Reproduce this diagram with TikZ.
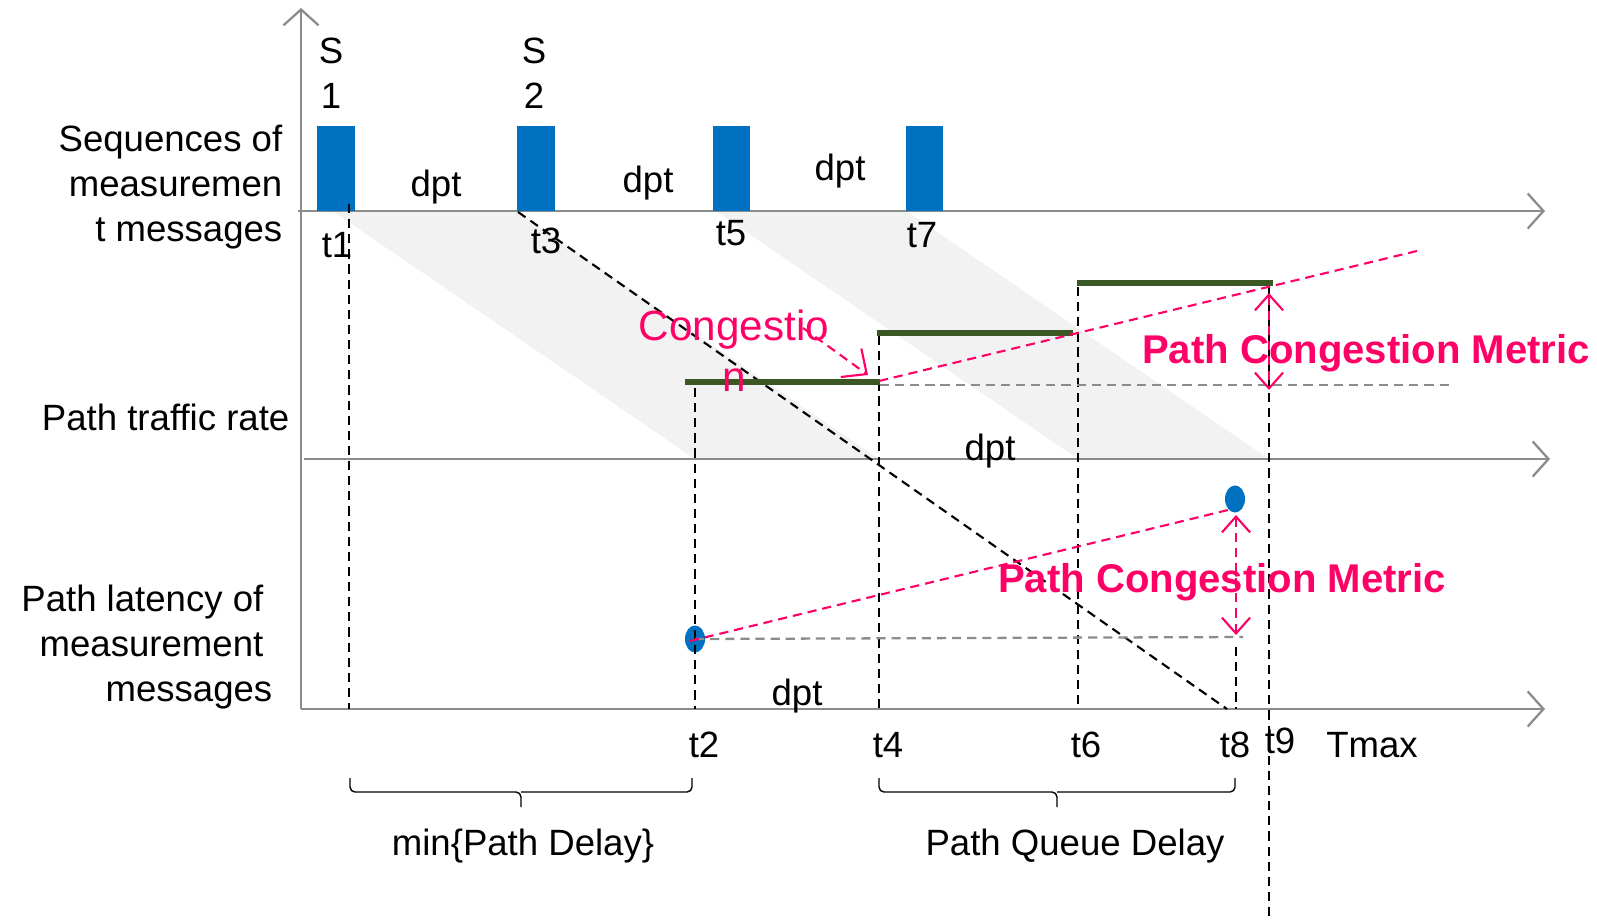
\documentclass[tikz,border=0pt]{standalone}
\usepackage{fontspec}
\setmainfont{Liberation Sans}
\usetikzlibrary{arrows.meta,shapes.geometric}
\definecolor{msgblue}{HTML}{0070C0}
\definecolor{rategreen}{HTML}{3A5724}
\definecolor{cngpink}{HTML}{FF0066}
\definecolor{axgrey}{HTML}{8C8C8C}
\definecolor{bandgrey}{HTML}{F2F2F2}
\tikzset{
  axis/.style={axgrey, line width=0.65pt, -{Straight Barb[length=4.5pt,width=10pt]}},
  guide/.style={black, line width=0.6pt, dash pattern=on 2.6pt off 1.7pt},
  level/.style={axgrey, line width=0.65pt, dash pattern=on 2.6pt off 1.7pt},
  trend/.style={cngpink, line width=0.6pt, dash pattern=on 2.6pt off 1.7pt},
  rate/.style={rategreen, line width=1.7pt},
  msg/.style={fill=msgblue, inner sep=0pt, minimum width=0.37cm, minimum height=0.85cm},
  dot/.style={ellipse, fill=msgblue, inner sep=0pt, minimum width=0.2cm, minimum height=0.27cm},
  txt/.style={inner sep=0pt, font=\fontsize{10.4}{12.8}\selectfont},
  metric/.style={inner sep=0pt, text=cngpink, font=\fontsize{11.4}{13.7}\selectfont\bfseries},
  gap/.style={line width=0.4pt, rounded corners=0.05cm},
  barb/.style={{Straight Barb[length=4.5pt,width=8pt]}-{Straight Barb[length=4.5pt,width=8pt]}},
}
\begin{document}
\begin{tikzpicture}[x=0.01cm, y=-0.01cm]
  \useasboundingbox (0,0) rectangle (1597,921);
  % grey bands
  \fill[bandgrey] (334,212) -- (518,212) -- (879,459) -- (695,459) -- cycle;
  \fill[bandgrey] (717,212) -- (908,212) -- (1269,459) -- (1078,459) -- cycle;

  % axes
  \coordinate (O) at (301,709);
  \coordinate (Ytop) at (301,8);
  \coordinate (A0) at (298,211);
  \coordinate (A1) at (1545,211);
  \coordinate (B0) at (304,459);
  \coordinate (B1) at (1550,459);
  \coordinate (C1) at (1545,709);
  \draw[axis] (O) -- (Ytop);
  \draw[axis] (A0) -- (A1);
  \draw[axis] (B0) -- (B1);
  \draw[axis] (O) -- (C1);

  % measurement messages
  \foreach \x/\n in {336/1, 536/2, 731.5/3, 924.5/4}
    \node[msg] (M\n) at (\x,168.5) {};
  \node[txt, align=center] (S1) at (331,73) {S\\1};
  \node[txt, align=center] (S2) at (534,73) {S\\2};
  \node[txt] (d1) at (436,187) {dpt};
  \node[txt] (d2) at (648,183) {dpt};
  \node[txt] (d3) at (840,171) {dpt};
  \node[txt] (d4) at (990,451) {dpt};
  \node[txt] (d5) at (797,696) {dpt};

  % row labels
  \node[txt, align=right, anchor=east] (seq) at (283,187) {Sequences of\\measuremen\\t messages};
  \node[txt, anchor=east] (rate) at (290,417) {Path traffic rate};
  \node[txt, align=right, anchor=east] (lat) at (264,647) {Path latency of\\measurement\\messages\hspace*{-0.09cm}};

  % time labels
  \node[txt] (t1) at (337,245) {t1};
  \node[txt] (t3) at (546,241) {t3};
  \node[txt] (t5) at (731,233) {t5};
  \node[txt] (t7) at (922,235) {t7};
  \node[txt] (t2) at (704,745) {t2};
  \node[txt] (t4) at (888,745) {t4};
  \node[txt] (t6) at (1086,745) {t6};
  \node[txt] (t8) at (1235,745) {t8};
  \node[txt] (t9) at (1280,741) {t9};
  \node[txt] (Tm) at (1372,745) {Tmax};

  % latency samples
  \node[dot] (D1) at (695,639) {};
  \node[dot] (D2) at (1235,499) {};

  % dashed guides
  \coordinate (v1) at (349,204);
  \coordinate (v2) at (695,388);
  \coordinate (v4) at (879,336);
  \coordinate (v6) at (1078,287);
  \coordinate (v8) at (1236,647);
  \coordinate (v9) at (1269,287);
  \coordinate (v9b) at (1269,921);
  \foreach \v in {v1,v2,v4,v6,v8}
    \draw[guide] (\v) -- (\v |- O);
  \draw[guide] (v9) -- (v9b);
  \coordinate (s3) at (518,212);
  \coordinate (s8) at (1227,709);
  \draw[guide] (s3) -- (s8);

  % traffic rate steps
  \draw[rate] (685,382) -- (880,382);
  \draw[rate] (877,333) -- (1073,333);
  \draw[rate] (1077,283) -- (1273,283);

  % congestion trend, rate
  \coordinate (r0) at (880,385);
  \coordinate (r1) at (1450,385);
  \draw[level] (r0) -- (r1);
  \coordinate (p0) at (879,381);
  \coordinate (p1) at (1421,250);
  \draw[trend] (p0) -- (p1);
  \coordinate (m1a) at (1269,293);
  \coordinate (m1b) at (1269,390);
  \draw[trend, barb] (m1a) -- (m1b);
  \node[metric] (cm1) at (1366,353) {Path Congestion Metric};

  \node[txt, text=cngpink, align=center, font=\fontsize{12}{14.5}\selectfont] (cng) at (734,351) {Congestio\\n};
  \coordinate (c0) at (803,328);
  \coordinate (c1) at (868,375);
  \draw[trend, -{Straight Barb[length=5.5pt,width=10pt]}] (c0) -- (c1);

  % congestion trend, latency
  \coordinate (q1) at (1243,637);
  \draw[level] (D1.center) -- (q1);
  \coordinate (e1) at (1228,510);
  \draw[trend] (690,641) -- (e1);
  \coordinate (m2a) at (1236,515);
  \coordinate (m2b) at (1236,635);
  \draw[trend, barb] (m2a) -- (m2b);
  \node[metric] (cm2) at (1222,582) {Path Congestion Metric};

  % delays
  \coordinate (b1) at (350,778);
  \coordinate (b2) at (692,778);
  \coordinate (bm1) at (521,792);
  \coordinate (b4) at (879,778);
  \coordinate (b8) at (1235,778);
  \coordinate (bm2) at (1057,792);
  \draw[gap] (b1) |- (bm1) -- ++(0,15);
  \draw[gap] (b2) |- (bm1);
  \draw[gap] (b4) |- (bm2) -- ++(0,15);
  \draw[gap] (b8) |- (bm2);
  \node[txt] (mpd) at (523,846) {min\{Path Delay\}};
  \node[txt] (pqd) at (1075,846) {Path Queue Delay};
\end{tikzpicture}
\end{document}
